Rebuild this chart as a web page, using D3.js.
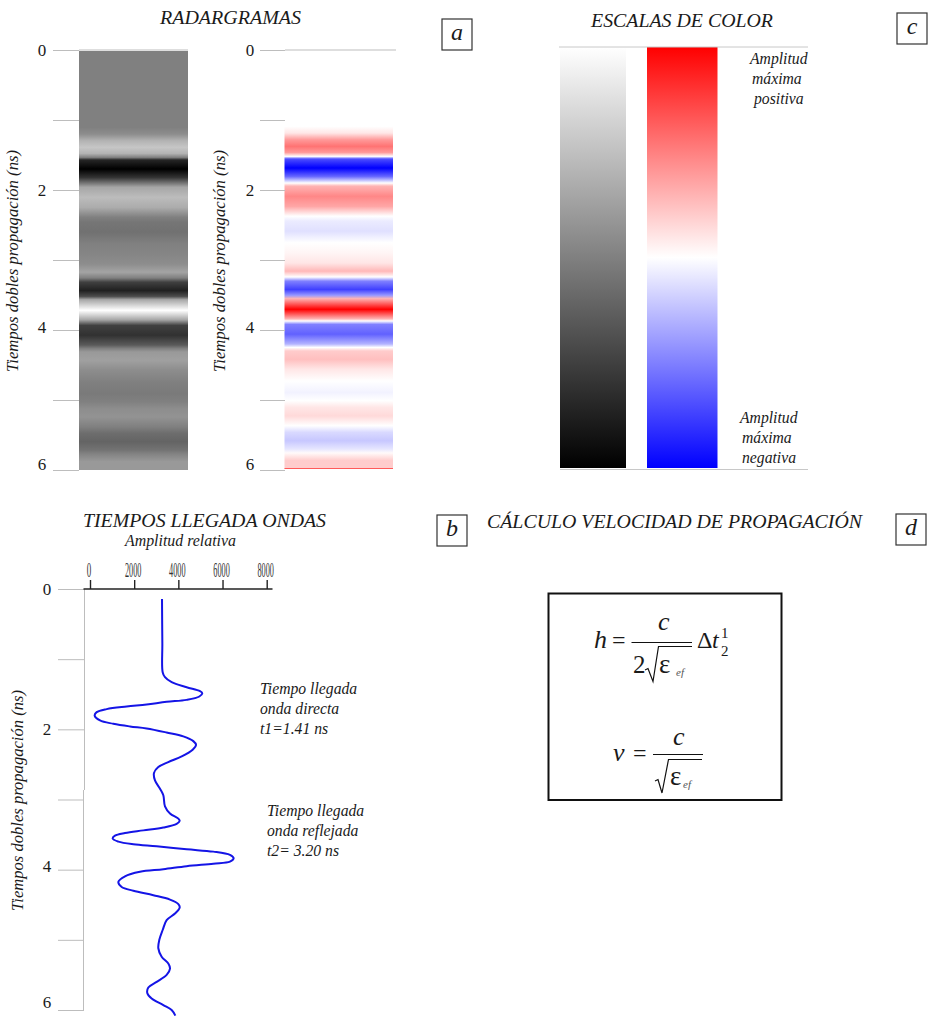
<!DOCTYPE html>
<html><head><meta charset="utf-8">
<script src="https://cdn.jsdelivr.net/npm/d3@7"></script>
<style>html,body{margin:0;padding:0;background:#fff}svg{display:block;opacity:.999}text{font-family:"Liberation Serif",serif;fill:#1a1a1a}</style>
</head><body><svg id="c" width="930" height="1017"></svg>
<script>
// trace picked from panel b: time (ns), relative amplitude
const traceTime=[0.142,0.78,1.186,1.257,1.328,1.40,1.456,1.485,1.532,1.58,1.608,1.646,1.675,1.712,1.755,1.803,1.874,1.921,1.959,1.988,2.045,2.10,2.168,2.22,2.29,2.386,2.467,2.538,2.623,2.728,2.846,2.94,3.098,3.2,3.273,3.306,3.349,3.40,3.44,3.477,3.515,3.558,3.6,3.638,3.667,3.71,3.743,3.79,3.838,3.885,3.914,3.95,3.994,4.03,4.094,4.175,4.246,4.30,4.364,4.426,4.49,4.54,4.625,4.72,4.86,5.0,5.12,5.24,5.337,5.41,5.5,5.6,5.68,5.76,5.835,5.93,6.0,6.08];
const traceAmp=[3260,3275,3290,3395,3697,4376,4980,5085,4950,4376,3470,2565,1660,755,302,211,453,1056,1811,2565,3470,4225,4678,4800,4648,4150,3546,3093,2897,2942,3170,3320,3395,3622,4000,4060,3923,3320,2414,1585,1132,1026,1283,1962,3018,4376,5583,6338,6504,6338,5583,4376,3320,2264,1585,1283,1434,1962,2867,3622,4000,4060,3848,3470,3290,3139,3093,3244,3546,3622,3470,3018,2640,2596,2792,3320,3697,3863];
// radargram bands: time (ns), normalised amplitude
const bandTime=[0,1.095,1.19,1.286,1.38,1.467,1.524,1.56,1.69,1.81,1.905,1.95,2.095,2.24,2.38,2.45,2.595,2.76,2.905,3.05,3.167,3.25,3.31,3.43,3.514,3.56,3.714,3.85,3.88,3.93,4.07,4.21,4.26,4.31,4.43,4.57,4.74,4.905,5.02,5.12,5.24,5.38,5.476,5.595,5.714,5.77,5.88,5.976,6];
const bandAmp=[0,0,0.1,0.4,0.55,0.4,0,-0.7,-1,-0.6,0,0.3,0.47,0.35,0,-0.08,-0.12,0,0.04,0.1,0.28,0,-0.5,-0.75,-0.4,0.3,1,0.3,0,-0.5,-0.62,-0.3,0,0.2,0.25,0.1,0,-0.05,0,0.1,0.15,0,-0.15,-0.22,-0.1,0.02,0.2,0.2,0.2];
const legendLevels=[1,0.75,0.5,0.25,0,-0.25,-0.5,-0.75,-1];
const timeTicks=[0,1,2,3,4,5,6];
const timeLabels=[0,2,4,6];
const ampTicks=[0,2000,4000,6000,8000];

const svg=d3.select("#c"),defs=svg.append("defs");
const grayC=d3.scaleLinear().domain([-1,0,1]).range(["#000000","#808080","#ffffff"]);
const rbC=d3.scaleLinear().domain([-1,0,1]).range(["#0000ff","#ffffff","#ff0000"]);
const yA=d3.scaleLinear().domain([0,6]).range([50,470]);
const yB=d3.scaleLinear().domain([0,6]).range([589,1010]);
const xB=d3.scaleLinear().domain([0,8000]).range([90,266.7]);
const yL=d3.scaleLinear().domain([1,-1]).range([47,468]);

function grad(id,t,v,c,dom){
  const g=defs.append("linearGradient").attr("id",id).attr("x1",0).attr("x2",0).attr("y1",0).attr("y2",1);
  g.selectAll("stop").data(d3.range(t.length)).join("stop")
    .attr("offset",i=>(dom(t[i])-dom.range()[0])/(dom.range()[1]-dom.range()[0]))
    .attr("stop-color",i=>c(v[i]));
}
grad("g1",bandTime,bandAmp,grayC,yA);
grad("g2",bandTime,bandAmp,rbC,yA);
grad("g3",legendLevels,legendLevels,grayC,yL);
grad("g4",legendLevels,legendLevels,rbC,yL);

function T(s,x,y,size,opt={}){
  const t=svg.append("text").attr("x",x).attr("y",y).attr("font-size",size).text(s);
  if(opt.upright!==true)t.attr("font-style","italic");
  if(opt.w)t.attr("textLength",opt.w).attr("lengthAdjust","spacingAndGlyphs");
  if(opt.rot)t.attr("transform",`rotate(-90 ${x} ${y})`);
  if(opt.anchor)t.attr("text-anchor",opt.anchor);
  if(opt.fill)t.style("fill",opt.fill);
  return t;
}
function timeAxis(y,x1,x2,lx,lift){
  const g=svg.append("g").attr("transform",`translate(${x2},0)`)
   .call(d3.axisLeft(y).tickValues(timeTicks).tickSize(x2-x1).tickFormat(d=>timeLabels.includes(d)?d:""));
  g.select(".domain").remove();
  g.selectAll("line").attr("stroke","#bdbdbd").attr("stroke-width",1);
  g.selectAll("text").attr("x",lx-x2).attr("y",d=>timeLabels.includes(d)?-lift[timeLabels.indexOf(d)]:0).attr("text-anchor","middle").attr("font-size",17).attr("font-family","Liberation Serif").attr("dy","0.32em").style("fill","#1a1a1a");
  return g;
}
// panel a
svg.append("rect").attr("x",79).attr("y",yA(0)+1).attr("width",109).attr("height",yA(6)-yA(0)-1).attr("fill","url(#g1)");
svg.append("rect").attr("x",284.5).attr("y",yA(0)).attr("width",108.5).attr("height",yA(6)-yA(0)-1).attr("fill","url(#g2)");
svg.append("rect").attr("x",284.5).attr("y",468).attr("width",108.5).attr("height",1).attr("fill","#ff5a5a");
timeAxis(yA,53,79,42,[0,0,3,6]);
timeAxis(yA,260,285,250,[0,0,3,6]);
svg.append("path").attr("d",`M79 ${yA(0)}H188`).attr("stroke","#bdbdbd");
svg.append("path").attr("d",`M285 ${yA(0)}H396`).attr("stroke","#bdbdbd");
T("RADARGRAMAS",160,24,18,{w:141});
T("Tiempos dobles propagación (ns)",18,372,16.5,{rot:1,w:222});
T("Tiempos dobles propagación (ns)",225,372,16.5,{rot:1,w:222});
// panel c
svg.append("rect").attr("x",560).attr("y",47).attr("width",66).attr("height",421).attr("fill","url(#g3)");
svg.append("rect").attr("x",647).attr("y",47).attr("width",70.5).attr("height",421).attr("fill","url(#g4)");
svg.append("path").attr("d","M559 47H808M560 469.5H808").attr("stroke","#c8c8c8").attr("fill","none");
T("ESCALAS DE COLOR",591,27,18,{w:182});
T("Amplitud",750,64,15.7);T("máxima",752,84,15.7);T("positiva",754,104,15.7);
T("Amplitud",740,423,15.7);T("máxima",742,443,15.7);T("negativa",742,463,15.7);
// panel b
timeAxis(yB,58,84,47,[0,0,3.5,7.5]);
svg.append("path").attr("d",`M84.5 ${yB(0)}V790M83.5 790V${yB(6)}`).attr("stroke","#bdbdbd").attr("fill","none");
const gx=svg.append("g").attr("transform",`translate(0,${yB(0)})`)
  .call(d3.axisTop(xB).tickValues(ampTicks).tickSize(9).tickFormat(d=>d));
gx.select(".domain").attr("d",`M83.5 0H272.5`).attr("stroke","#222").attr("stroke-width",1.6);
gx.selectAll("line").attr("stroke","#222").attr("stroke-width",1.4);
gx.selectAll("text").attr("x",-1.5).attr("y",-12).attr("dy",0).attr("font-size",22).attr("font-family","Liberation Serif").style("fill","#333").each(function(d){
  d3.select(this).attr("textLength",d===0?4.5:16.5).attr("lengthAdjust","spacingAndGlyphs");
});
const line=d3.line().x(i=>xB(traceAmp[i])).y(i=>yB(traceTime[i])).curve(d3.curveCatmullRom.alpha(0.5));
svg.append("path").attr("d",line(d3.range(traceTime.length))).attr("fill","none").attr("stroke","#1414e6").attr("stroke-width",2);
T("TIEMPOS LLEGADA ONDAS",83,527,18,{w:243});
T("Amplitud relativa",125,546,16,{w:111});
T("Tiempos dobles propagación (ns)",23,911,16.5,{rot:1,w:221});
T("Tiempo llegada",260,694,15.7);T("onda directa",260,714,15.7);T("t1=1.41 ns",260,734,15.7);
T("Tiempo llegada",267,816,15.7);T("onda reflejada",267,836,15.7);T("t2= 3.20 ns",267,856,15.7);
// panel d
T("CÁLCULO VELOCIDAD DE PROPAGACIÓN",487,528,18,{w:375});
svg.append("rect").attr("x",548.5).attr("y",593.5).attr("width",233).attr("height",206.5).attr("fill","none").attr("stroke","#111").attr("stroke-width",2);
const eq=(s,x,y,size,o={})=>T(s,x,y,size,o);
eq("h",594,648,26);eq("=",612,648,24,{upright:true});
eq("c",658,630,26);
svg.append("path").attr("d","M631.5 642.5H692").attr("stroke","#111").attr("stroke-width",1.2);
eq("2",633,673,25,{upright:true});
svg.append("path").attr("d","M645 670L648 668.5L653 681.5L658.5 646.5H692").attr("stroke","#111").attr("stroke-width",1.2).attr("fill","none");
eq("ε",659,673,27,{upright:true});eq("ef",676,676,11,{fill:"#555"});
eq("Δ",697,648,24,{upright:true});eq("t",712,648,24);
eq("1",721,638,15,{upright:true});eq("2",721,656,15,{upright:true});
eq("v",613,761,26);eq("=",633,761,24,{upright:true});
eq("c",673,745,26);
svg.append("path").attr("d","M653 754.5H703").attr("stroke","#111").attr("stroke-width",1.2);
svg.append("path").attr("d","M655 781L658 779.5L662 793L668.5 759.5H702").attr("stroke","#111").attr("stroke-width",1.2).attr("fill","none");
eq("ε",670,785,27,{upright:true});eq("ef",683,788,11,{fill:"#555"});
// letter boxes
const boxLetters=["a","b","c","d"],boxX=[442,437,897,896],boxY=[19,515,13,514];
svg.selectAll("rect.box").data(boxLetters).join("rect").attr("class","box").attr("x",(d,i)=>boxX[i]).attr("y",(d,i)=>boxY[i]).attr("width",30).attr("height",31).attr("fill","none").attr("stroke","#333").attr("stroke-width",1.2);
boxLetters.forEach((d,i)=>T(d,boxX[i]+15,boxY[i]+21,24,{anchor:"middle"}));
</script></body></html>
